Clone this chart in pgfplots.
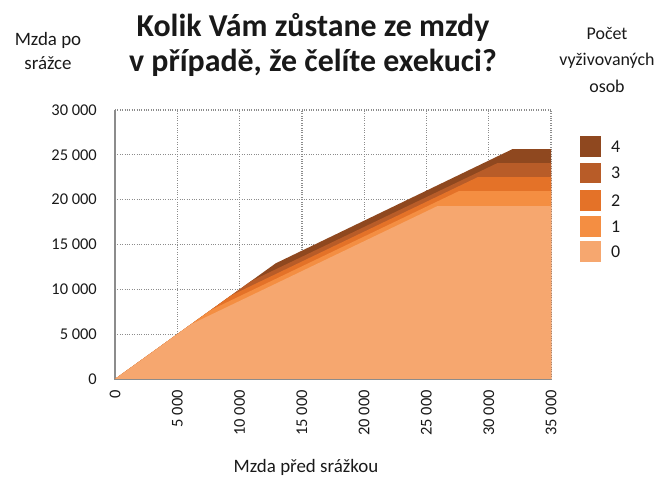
\documentclass[border=0pt]{standalone}
\usepackage{fontspec}
\setmainfont{Carlito}
\usepackage{pgfplots}
\pgfplotsset{compat=1.18}
\definecolor{c0}{RGB}{246,167,111}
\definecolor{c1}{RGB}{244,142,66}
\definecolor{c2}{RGB}{228,114,40}
\definecolor{c3}{RGB}{184,92,40}
\definecolor{c4}{RGB}{143,72,31}
\definecolor{axgray}{RGB}{140,140,140}
\begin{document}
\begin{tikzpicture}[x=1bp,y=1bp]
\useasboundingbox (0,0) rectangle (656,480);
\begin{axis}[
  at={(115bp,101bp)}, anchor=south west,
  scale only axis, width=436bp, height=269bp,
  xmin=0, xmax=35000, ymin=0, ymax=30000,
  xtick={0,5000,10000,15000,20000,25000,30000,35000},
  ytick={0,5000,10000,15000,20000,25000,30000},
  scaled ticks=false,
  /pgf/number format/.cd, 1000 sep={\ }, assume math mode=true, /pgfplots/.cd,
  major tick length=0pt,
  grid=major,
  grid style={dotted, axgray, line width=1.3pt},
  axis x line*=bottom, axis y line*=left,
  axis line style={axgray, line width=1.4pt, -},
  ticklabel style={font=\fontsize{16.5}{16.5}\selectfont, text=black!90, inner sep=0pt},
  xticklabel style={rotate=90, anchor=east},
  yticklabel style={anchor=east},
  xticklabel shift=11bp,
  yticklabel shift=18bp,
]
\addplot[fill=c4, draw=none] coordinates {(0,0) (12900,12900) (31900,25630) (35000,25630)} \closedcycle;
\addplot[fill=c3, draw=none] coordinates {(0,0) (10900,10900) (30700,24080) (35000,24080)} \closedcycle;
\addplot[fill=c2, draw=none] coordinates {(0,0) (9300,9300) (29100,22500) (35000,22500)} \closedcycle;
\addplot[fill=c1, draw=none] coordinates {(0,0) (7700,7700) (27600,20950) (35000,20950)} \closedcycle;
\addplot[fill=c0, draw=none] coordinates {(0,0) (6100,6100) (25850,19265) (35000,19265)} \closedcycle;
\end{axis}
% title and labels
\node[font=\fontsize{32}{35}\selectfont\bfseries, align=center, text=black!90] at (313,435) {Kolik Vám zůstane ze mzdy\\v případě, že čelíte exekuci?};
\node[font=\fontsize{19}{25}\selectfont, align=center, text=black!90] at (48,429) {Mzda po\\srážce};
\node[font=\fontsize{18}{26.5}\selectfont, align=center, text=black!90] at (607,420) {Počet\\vyživovaných\\osob};
\node[font=\fontsize{19}{19}\selectfont, text=black!90] at (306,13) {Mzda před srážkou};
% legend
\fill[c4] (580,323.3) rectangle (600.7,344);
\fill[c3] (580,296.7) rectangle (600.7,317.3);
\fill[c2] (580,269.3) rectangle (600.7,290);
\fill[c1] (580,243.3) rectangle (600.7,264);
\fill[c0] (580,218.3) rectangle (600.7,239);
\node[font=\fontsize{18}{18}\selectfont, anchor=west, inner sep=0pt, text=black!90] at (611,333.7) {4};
\node[font=\fontsize{18}{18}\selectfont, anchor=west, inner sep=0pt, text=black!90] at (611,307) {3};
\node[font=\fontsize{18}{18}\selectfont, anchor=west, inner sep=0pt, text=black!90] at (611,279.7) {2};
\node[font=\fontsize{18}{18}\selectfont, anchor=west, inner sep=0pt, text=black!90] at (611,253.7) {1};
\node[font=\fontsize{18}{18}\selectfont, anchor=west, inner sep=0pt, text=black!90] at (611,228.7) {0};
\end{tikzpicture}
\end{document}
